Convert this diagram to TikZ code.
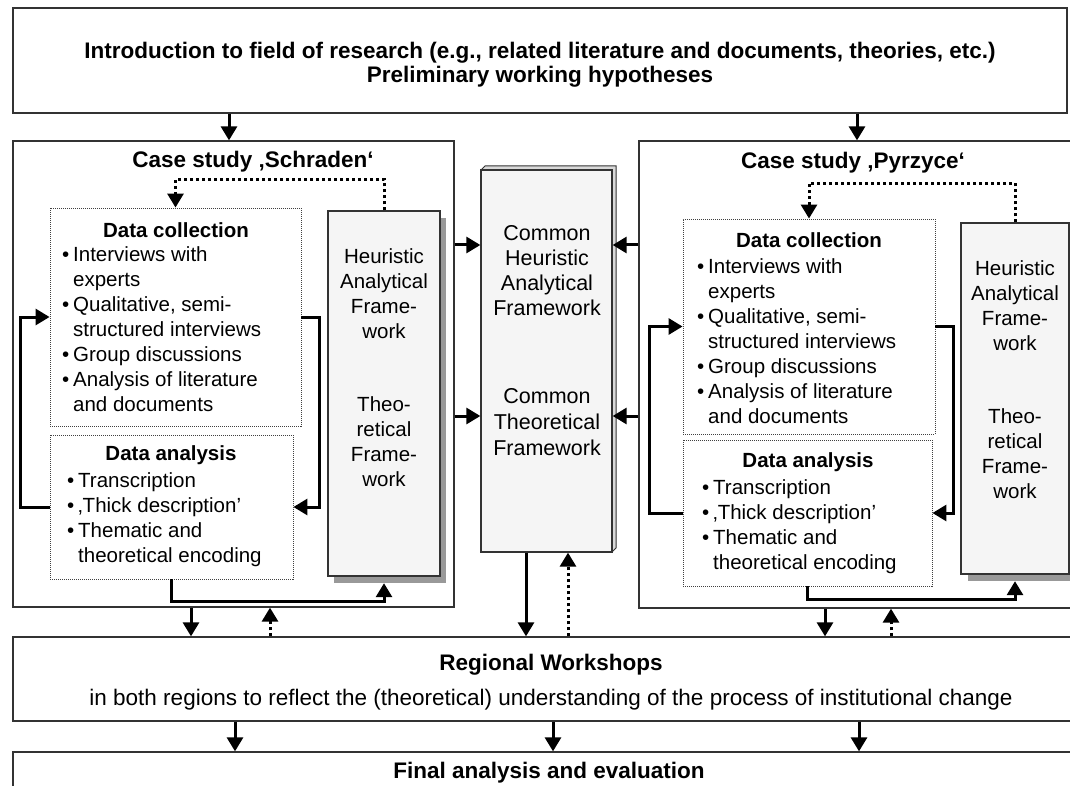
\documentclass[tikz,border=0pt]{standalone}
\usepackage{fontspec}
\setmainfont{Liberation Sans}
\usetikzlibrary{arrows.meta,fit}
\newcommand{\mybul}{\makebox[11pt][l]{\textbullet}}
\newcommand{\myind}{\hspace*{11pt}}
\begin{document}
\begin{tikzpicture}[x=1pt,y=-1pt,
  box/.style={draw=black!80, line width=1.3pt, inner sep=0pt, fill=white},
  dbox/.style={draw=black!75, line width=0.9pt, dash pattern=on 1pt off 1pt, inner sep=0pt, fill=white},
  fbox/.style={draw=black!80, line width=1.3pt, inner sep=0pt, fill=black!4},
  shad/.style={fill=black!40, inner sep=0pt},
  arr/.style={line width=3pt, -{Triangle[width=16pt,length=14pt]}},
  darr/.style={arr, dash pattern=on 3pt off 3pt},
  body/.style={font=\fontsize{20.5}{25}\selectfont, inner sep=0pt, align=left},
  cbody/.style={font=\fontsize{20.5}{25}\selectfont, inner sep=0pt, align=center},
  bigttl/.style={font=\fontsize{22.5}{24}\selectfont\bfseries, inner sep=0pt, align=center},
  ttl/.style={font=\fontsize{20.5}{25}\selectfont\bfseries, inner sep=0pt},
]
\useasboundingbox (0,0) rectangle (1070,786);
\clip (0,0) rectangle (1070,786);
\fill[white] (0,0) rectangle (1070,786);

% main boxes
\node[box, fit={(13,8) (1067,113)}] (intro) {};
\node[box, fit={(13,141) (454,607)}] (caseL) {};
\node[box, fit={(639,141) (1090,608)}] (caseR) {};
\node[box, fit={(13,637) (1090,721)}] (regional) {};
\node[box, fit={(13,752) (1090,800)}] (final) {};

% common framework box (3D)
\filldraw[fill=black!15, draw=black!80, line width=1pt] (481,170) -- (485,166) -- (616,166) -- (616,548) -- (612,552) -- cycle;
\node[fbox, fit={(481,170) (612,552)}] (common) {};

% heuristic boxes with shadow
\node[shad, fit={(334,218) (446,583)}] (shadowL) {};
\node[fbox, fit={(328,211) (440,576)}] (heuL) {};
\node[shad, fit={(968,230) (1076,581)}] (shadowR) {};
\node[fbox, fit={(961,223) (1069,574)}] (heuR) {};

% data boxes
\node[dbox, fit={(50,208) (301,426)}] (dcL) {};
\node[dbox, fit={(50,435) (293,579)}] (daL) {};
\node[dbox, fit={(683,219) (935,434)}] (dcR) {};
\node[dbox, fit={(683,440) (932,586)}] (daR) {};

% texts
\node[bigttl] (introtxt) at (540,65) {Introduction to field of research (e.g., related literature and documents, theories, etc.)\\Preliminary working hypotheses};
\node[bigttl] (caseLtxt) at (253,162) {Case study ‚Schraden‘};
\node[bigttl] (caseRtxt) at (853,163) {Case study ‚Pyrzyce‘};

\node[ttl] (dcLttl) at (176,230) {Data collection};
\node[body, anchor=north west] (dcLtxt) at (62,246) {\mybul Interviews with\\\myind experts\\\mybul Qualitative, semi-\\\myind structured interviews\\\mybul Group discussions\\\mybul Analysis of literature\\\myind and documents};
\node[ttl] (daLttl) at (171,455) {Data analysis};
\node[body, anchor=north west] (daLtxt) at (67,472) {\mybul Transcription\\\mybul ‚Thick description’\\\mybul Thematic and\\\myind theoretical encoding};

\node[ttl] (dcRttl) at (809,240) {Data collection};
\node[body, anchor=north west] (dcRtxt) at (697,258) {\mybul Interviews with\\\myind experts\\\mybul Qualitative, semi-\\\myind structured interviews\\\mybul Group discussions\\\mybul Analysis of literature\\\myind and documents};
\node[ttl] (daRttl) at (808,462) {Data analysis};
\node[body, anchor=north west] (daRtxt) at (702,479) {\mybul Transcription\\\mybul ‚Thick description’\\\mybul Thematic and\\\myind theoretical encoding};

\node[cbody] (heuLtxt) at (384,294) {Heuristic\\Analytical\\Frame-\\work};
\node[cbody] (theoLtxt) at (384,442) {Theo-\\retical\\Frame-\\work};
\node[cbody] (heuRtxt) at (1015,306) {Heuristic\\Analytical\\Frame-\\work};
\node[cbody] (theoRtxt) at (1015,454) {Theo-\\retical\\Frame-\\work};

\node[cbody, font=\fontsize{21.5}{25}\selectfont] (comHtxt) at (547,271) {Common\\Heuristic\\Analytical\\Framework};
\node[cbody, font=\fontsize{21.5}{26}\selectfont] (comTtxt) at (547,422) {Common\\Theoretical\\Framework};

\node[bigttl] (regttl) at (551,665) {Regional Workshops};
\node[cbody, font=\fontsize{22.5}{25}\selectfont] (regtxt) at (551,700) {in both regions to reflect the (theoretical) understanding of the process of institutional change};
\node[bigttl] (finttl) at (549,773) {Final analysis and evaluation};

% helper coordinates
\coordinate (xa) at (229,0);
\coordinate (xb) at (857,0);
\coordinate (xc) at (191,0);
\coordinate (xd) at (270,0);
\coordinate (xe) at (526,0);
\coordinate (xf) at (568,0);
\coordinate (xg) at (825,0);
\coordinate (xh) at (891,0);
\coordinate (xi) at (235,0);
\coordinate (xj) at (553,0);
\coordinate (xk) at (859,0);
\coordinate (ya) at (0,245);
\coordinate (yb) at (0,416);

% connectors
\draw[arr] (intro.south -| xa) -- (caseL.north -| xa);
\draw[arr] (intro.south -| xb) -- (caseR.north -| xb);

\draw[darr] (heuL.north) -- ++(0,-31) -| (dcL.north);
\draw[darr] (heuR.north) -- ++(0,-39) -| (dcR.north);

\draw[arr] (daL.west) -- ++(-29,0) |- (dcL.west);
\draw[arr] (dcL.east) -- ++(18,0) |- (daL.east);
\draw[arr] (daL.south) -- ++(0,22) -| (heuL.south |- shadowL.south);

\draw[arr] (daR.west) -- ++(-33,0) |- (dcR.west);
\draw[arr] (dcR.east) -- ++(18,0) |- (daR.east);
\draw[arr] (daR.south) -- ++(0,13) -| (heuR.south |- shadowR.south);

\draw[arr] (caseL.east |- ya) -- (common.west |- ya);
\draw[arr] (caseL.east |- yb) -- (common.west |- yb);
\draw[arr] (caseR.west |- ya) -- (common.east |- ya);
\draw[arr] (caseR.west |- yb) -- (common.east |- yb);

\draw[arr] (caseL.south -| xc) -- (regional.north -| xc);
\draw[darr] (regional.north -| xd) -- (caseL.south -| xd);
\draw[arr] (common.south -| xe) -- (regional.north -| xe);
\draw[darr] (regional.north -| xf) -- (common.south -| xf);
\draw[arr] (caseR.south -| xg) -- (regional.north -| xg);
\draw[darr] (regional.north -| xh) -- (caseR.south -| xh);

\draw[arr] (regional.south -| xi) -- (final.north -| xi);
\draw[arr] (regional.south -| xj) -- (final.north -| xj);
\draw[arr] (regional.south -| xk) -- (final.north -| xk);
\end{tikzpicture}
\end{document}
